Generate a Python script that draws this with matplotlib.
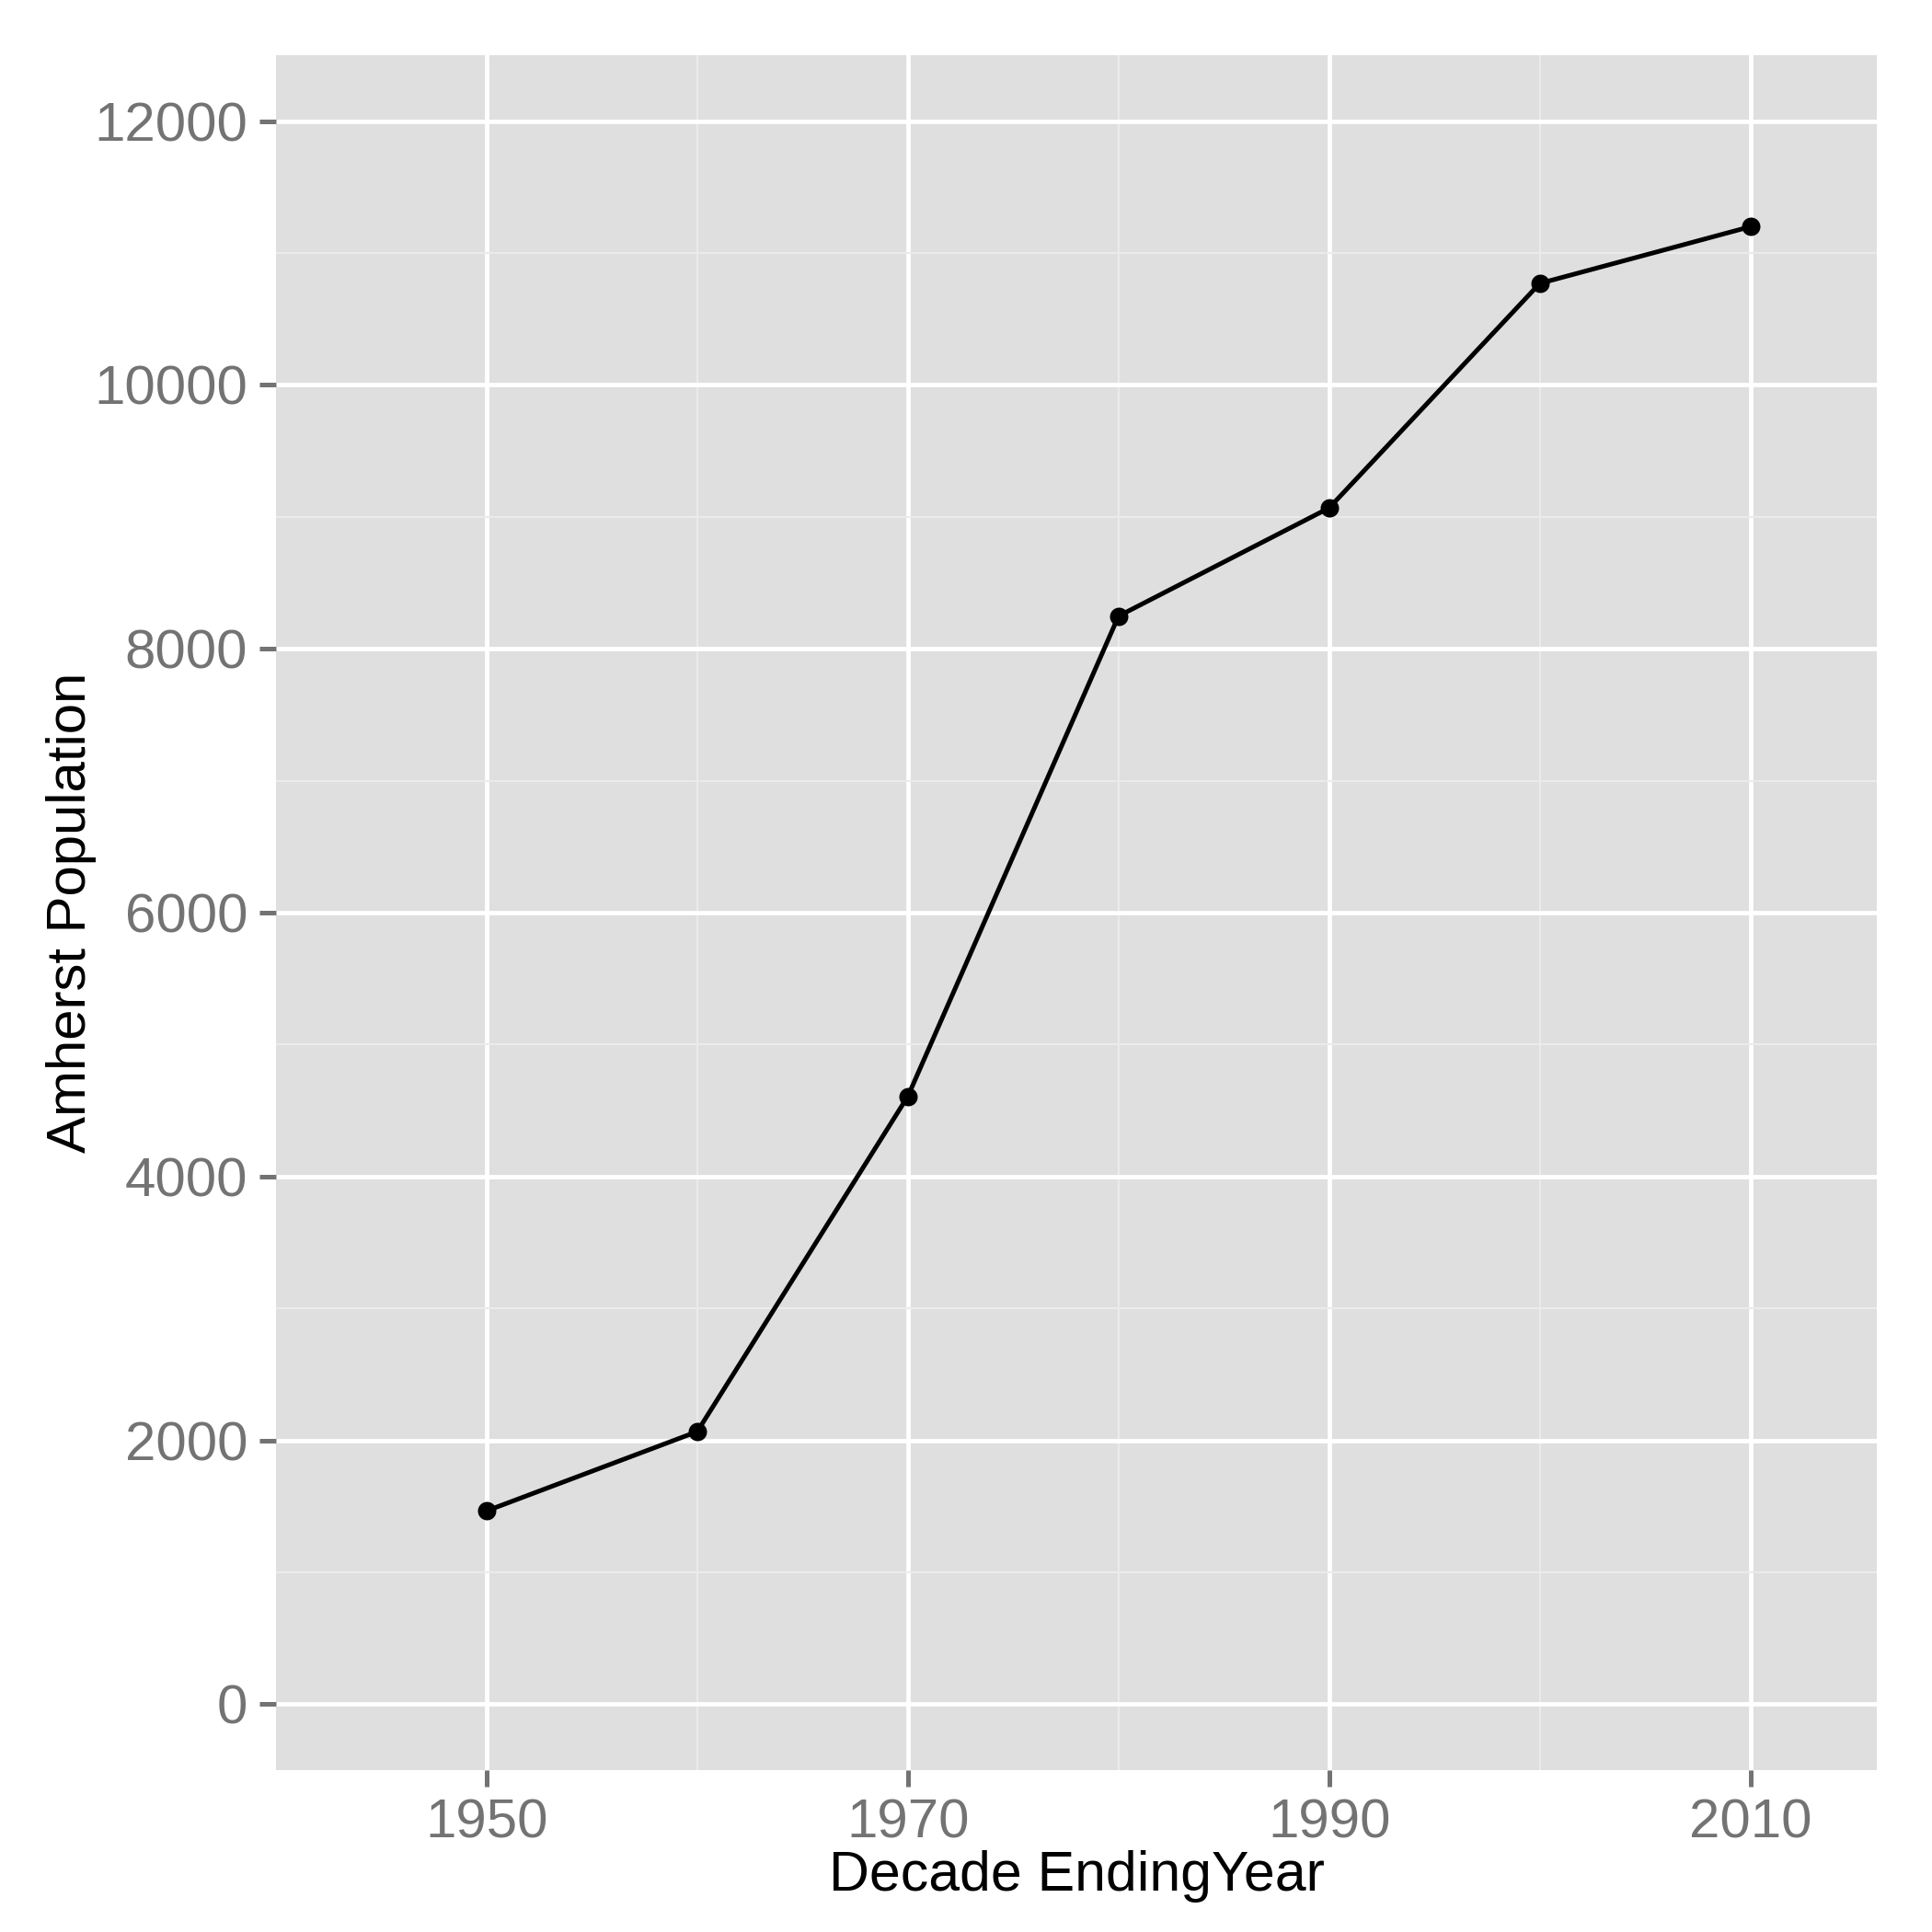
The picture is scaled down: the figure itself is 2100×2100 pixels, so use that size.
import matplotlib
matplotlib.use("Agg")
import matplotlib.pyplot as plt
from matplotlib.ticker import FixedLocator

years = [1950, 1960, 1970, 1980, 1990, 2000, 2010]
population = [1465, 2066, 4608, 8248, 9068, 10770, 11200]

x_major = [1950, 1970, 1990, 2010]
x_minor = [1960, 1980, 2000]
y_major = [0, 2000, 4000, 6000, 8000, 10000, 12000]
y_minor = [1000, 3000, 5000, 7000, 9000, 11000]

plt.rcParams['font.family'] = ['Liberation Sans', 'DejaVu Sans']

W = H = 2100
fig = plt.figure(figsize=(7, 7), dpi=300)
ax = fig.add_axes([300 / W, 1 - 1924 / H, 1740 / W, 1864 / H])
ax.set_facecolor('#DFDFDF')
for s in ax.spines.values():
    s.set_visible(False)

ax.set_xlim(1940, 2016)
ax.set_ylim(-500, 12500)

ax.xaxis.set_major_locator(FixedLocator(x_major))
ax.xaxis.set_minor_locator(FixedLocator(x_minor))
ax.yaxis.set_major_locator(FixedLocator(y_major))
ax.yaxis.set_minor_locator(FixedLocator(y_minor))

ax.grid(which='major', color='white', linewidth=1.15)
ax.grid(which='minor', color='#EBEBEB', linewidth=0.5)
ax.set_axisbelow(True)

ax.tick_params(which='major', length=4.3, width=1.2, color='#737373',
               labelcolor='#737373', labelsize=14.4, pad=3.1)
ax.tick_params(which='minor', length=0, width=0)

ax.plot(years, population, color='black', linewidth=1.2, marker='o',
        markersize=4.8, markerfacecolor='black', markeredgewidth=0,
        solid_capstyle='butt', zorder=3)

ax.set_xlabel('Decade EndingYear', fontsize=14.6, color='black')
ax.set_ylabel('Amherst Population', fontsize=14.4, color='black')
ax.xaxis.set_label_coords(0.5, (1924 - 2055) / 1864)
ax.xaxis.label.set_verticalalignment('baseline')
ax.yaxis.set_label_coords((93 - 300) / 1740, 0.5)
ax.yaxis.label.set_verticalalignment('baseline')

fig.savefig('out.png', dpi=300, facecolor='white')
